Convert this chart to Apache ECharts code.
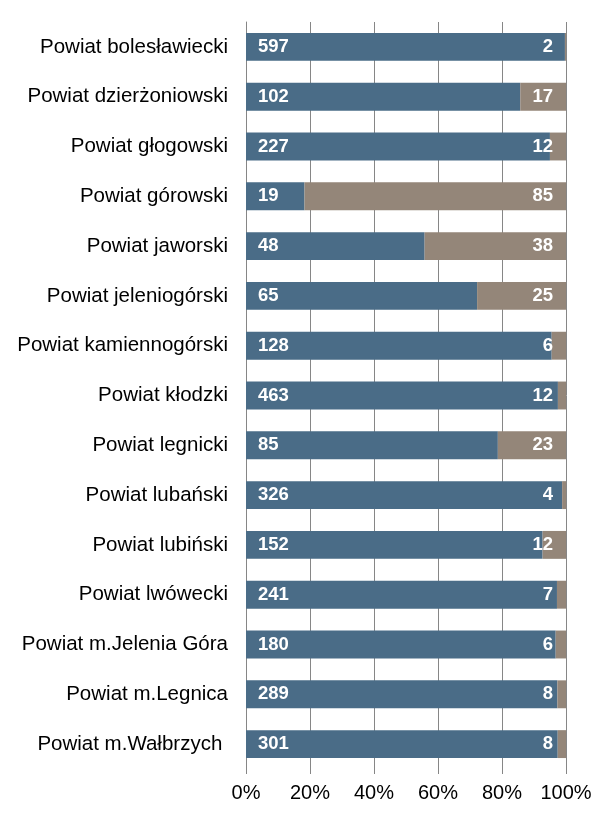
<!DOCTYPE html>
<html><head><meta charset="utf-8">
<script src="https://cdn.jsdelivr.net/npm/echarts@6/dist/echarts.min.js"></script>
<style>html,body{margin:0;padding:0;background:#fff}#c{width:616px;height:819px}</style>
</head><body><div id="c"></div>
<script>
var categories = ["Powiat bolesławiecki","Powiat dzierżoniowski","Powiat głogowski","Powiat górowski","Powiat jaworski","Powiat jeleniogórski","Powiat kamiennogórski","Powiat kłodzki","Powiat legnicki","Powiat lubański","Powiat lubiński","Powiat lwówecki","Powiat m.Jelenia Góra","Powiat m.Legnica","Powiat m.Wałbrzych "];
var seriesA = [597,102,227,19,48,65,128,463,85,326,152,241,180,289,301];
var seriesB = [2,17,12,85,38,25,6,12,23,4,12,7,6,8,8];
var tickLabels = ["0%","20%","40%","60%","80%","100%"];

var pctA = seriesA.map(function(v,i){return v/(v+seriesB[i])*100;});
var pctB = seriesB.map(function(v,i){return v/(seriesA[i]+v)*100;});

var chart = echarts.init(document.getElementById('c'), null, {renderer:'canvas'});
var font = '"Liberation Sans", Arial, sans-serif';
chart.setOption({
  animation:false,
  grid:{left:246,right:50,top:22,bottom:50,containLabel:false},
  xAxis:{type:'value',min:0,max:100,interval:20,
    axisLine:{show:false},
    axisTick:{show:true,length:5,lineStyle:{color:'#868686'}},
    splitLine:{show:true,lineStyle:{color:'#868686',width:1}},
    axisLabel:{formatter:function(v){return tickLabels[Math.round(v/20)];},color:'#000',fontSize:20,fontFamily:font,margin:14}
  },
  yAxis:{type:'category',inverse:true,data:categories,
    axisLine:{show:true,lineStyle:{color:'#868686'}},
    axisTick:{show:false},
    axisLabel:{color:'#000',fontSize:20.5,fontFamily:font,margin:18}
  },
  series:[
    {type:'bar',stack:'s',barWidth:'56%',data:pctA,itemStyle:{color:'#4A6C87'},
     label:{show:true,position:'insideLeft',distance:12,color:'#fff',fontWeight:'bold',fontSize:18.5,fontFamily:font,
       formatter:function(p){return seriesA[p.dataIndex];}}},
    {type:'bar',stack:'s',barWidth:'56%',data:pctB,itemStyle:{color:'#948679'},
     label:{show:true,position:'insideRight',distance:13,color:'#fff',fontWeight:'bold',fontSize:18.5,fontFamily:font,
       formatter:function(p){return seriesB[p.dataIndex];}}}
  ]
});
</script></body></html>
